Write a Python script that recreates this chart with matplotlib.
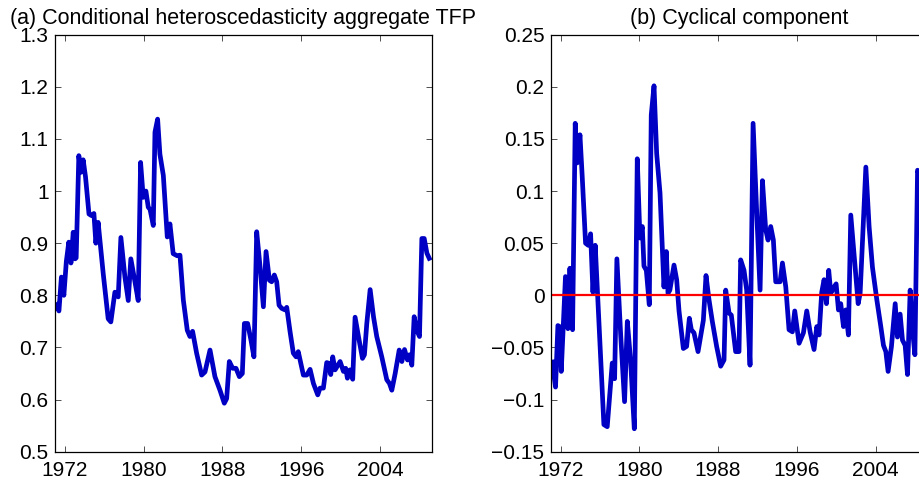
import matplotlib
matplotlib.use("Agg")
import matplotlib.pyplot as plt
from matplotlib.ticker import FixedLocator, FuncFormatter

plt.rcParams['font.family'] = ['Liberation Sans', 'DejaVu Sans']

# ---------------- data ----------------
title_a = "(a) Conditional heteroscedasticity aggregate TFP"
title_b = "(b) Cyclical component"

years_a = [1971.15, 1971.40, 1971.65, 1971.90, 1972.15, 1972.40, 1972.62, 1972.85,
           1973.05, 1973.15, 1973.42, 1973.63, 1973.86, 1974.10, 1974.45, 1974.70,
           1974.95, 1975.15, 1975.38, 1975.90, 1976.40, 1976.67, 1977.08, 1977.42,
           1977.69, 1978.10, 1978.44, 1978.70, 1979.10, 1979.45, 1979.69, 1979.96,
           1980.23, 1980.47, 1980.65, 1980.98, 1981.15, 1981.42, 1981.65, 1982.00,
           1982.40, 1982.67, 1983.00, 1983.40, 1983.69, 1984.03, 1984.43, 1984.70,
           1984.97, 1985.38, 1985.89, 1986.23, 1986.74, 1987.24, 1987.75, 1988.19,
           1988.43, 1988.70, 1989.04, 1989.38, 1989.72, 1990.02, 1990.23, 1990.56,
           1990.90, 1991.20, 1991.48, 1991.82, 1992.16, 1992.43, 1992.77, 1993.00,
           1993.27, 1993.51, 1993.75, 1994.02, 1994.36, 1994.53, 1994.87, 1995.20,
           1995.48, 1995.70, 1996.22, 1996.56, 1996.90, 1997.24, 1997.68, 1997.91,
           1998.25, 1998.59, 1998.75, 1999.00, 1999.20, 1999.44, 1999.95, 2000.29,
           2000.52, 2000.69, 2000.96, 2001.23, 2001.47, 2001.88, 2002.22, 2002.42,
           2002.66, 2003.00, 2003.34, 2003.67, 2004.18, 2004.69, 2004.96, 2005.20,
           2005.54, 2005.95, 2006.22, 2006.49, 2006.79, 2007.00, 2007.23, 2007.47,
           2007.74, 2008.01, 2008.25, 2008.49, 2008.76, 2009.00]
values_a = [0.782, 0.770, 0.835, 0.800, 0.865, 0.902, 0.862, 0.921,
            0.870, 0.872, 1.068, 1.036, 1.060, 1.027, 0.956, 0.953,
            0.957, 0.900, 0.940, 0.841, 0.755, 0.749, 0.806, 0.797,
            0.911, 0.835, 0.790, 0.870, 0.828, 0.790, 1.055, 0.988,
            1.000, 0.969, 0.965, 0.934, 1.113, 1.138, 1.071, 1.030,
            0.912, 0.937, 0.880, 0.876, 0.877, 0.791, 0.733, 0.721,
            0.731, 0.689, 0.647, 0.653, 0.695, 0.644, 0.618, 0.593,
            0.602, 0.673, 0.660, 0.660, 0.644, 0.650, 0.746, 0.746,
            0.714, 0.682, 0.922, 0.855, 0.778, 0.884, 0.829, 0.826,
            0.839, 0.826, 0.781, 0.775, 0.772, 0.777, 0.730, 0.689,
            0.682, 0.692, 0.647, 0.647, 0.658, 0.631, 0.609, 0.622,
            0.622, 0.671, 0.670, 0.648, 0.682, 0.657, 0.673, 0.654,
            0.660, 0.641, 0.657, 0.639, 0.758, 0.714, 0.679, 0.686,
            0.746, 0.811, 0.759, 0.721, 0.682, 0.638, 0.631, 0.618,
            0.650, 0.695, 0.673, 0.696, 0.676, 0.686, 0.666, 0.759,
            0.733, 0.721, 0.909, 0.909, 0.881, 0.871]

years_b = [1971.15, 1971.49, 1971.73, 1971.90, 1972.07, 1972.50, 1972.75, 1972.95,
           1973.22, 1973.49, 1973.69, 1973.97, 1974.20, 1974.54, 1974.81, 1975.05,
           1975.29, 1975.52, 1976.40, 1976.74, 1977.25, 1977.49, 1977.72, 1978.10,
           1978.50, 1978.78, 1979.11, 1979.49, 1979.79, 1980.06, 1980.30, 1980.47,
           1980.71, 1981.01, 1981.21, 1981.49, 1981.76, 1982.10, 1982.50, 1982.74,
           1982.91, 1983.10, 1983.52, 1983.79, 1984.03, 1984.47, 1984.80, 1985.08,
           1985.28, 1985.55, 1985.96, 1986.50, 1986.77, 1987.07, 1987.41, 1987.85,
           1988.26, 1988.60, 1988.77, 1989.11, 1989.34, 1989.78, 1990.12, 1990.29,
           1990.63, 1990.90, 1991.24, 1991.55, 1991.92, 1992.26, 1992.50, 1992.83,
           1993.07, 1993.34, 1993.61, 1993.85, 1994.29, 1994.53, 1994.87, 1995.20,
           1995.54, 1995.78, 1996.22, 1996.66, 1997.00, 1997.34, 1997.74, 1998.02,
           1998.25, 1998.52, 1998.76, 1999.00, 1999.23, 1999.44, 1999.71, 1999.98,
           2000.22, 2000.45, 2000.73, 2000.96, 2001.23, 2001.47, 2001.88, 2002.22,
           2002.42, 2002.66, 2003.00, 2003.33, 2003.67, 2004.11, 2004.52, 2004.79,
           2005.03, 2005.26, 2005.60, 2005.98, 2006.21, 2006.48, 2006.72, 2006.99,
           2007.23, 2007.50, 2007.77, 2007.98, 2008.25, 2008.45, 2008.75, 2009.00]
values_b = [-0.064, -0.088, -0.029, -0.030, -0.073, 0.018, -0.032, 0.026,
            -0.033, 0.165, 0.127, 0.154, 0.114, 0.050, 0.048, 0.059,
            0.003, 0.048, -0.124, -0.126, -0.065, -0.080, 0.035, -0.037,
            -0.102, -0.025, -0.062, -0.128, 0.131, 0.055, 0.066, 0.028,
            0.024, -0.009, 0.173, 0.201, 0.136, 0.098, 0.008, 0.042,
            0.002, 0.005, 0.029, 0.015, -0.015, -0.051, -0.049, -0.022,
            -0.033, -0.036, -0.054, -0.024, 0.019, -0.004, -0.025, -0.049,
            -0.068, -0.062, 0.005, -0.017, -0.019, -0.054, -0.054, 0.034,
            0.024, 0.005, -0.067, 0.165, 0.079, 0.005, 0.110, 0.063,
            0.053, 0.066, 0.053, 0.013, 0.013, 0.031, 0.008, -0.033,
            -0.035, -0.015, -0.046, -0.036, -0.015, -0.035, -0.052, -0.030,
            -0.038, 0.003, 0.015, -0.008, 0.024, 0.002, 0.007, 0.011,
            -0.014, -0.008, -0.030, -0.014, -0.038, 0.077, 0.031, -0.008,
            0.002, 0.053, 0.123, 0.066, 0.027, -0.004, -0.030, -0.048,
            -0.054, -0.073, -0.049, -0.008, -0.040, -0.018, -0.043, -0.048,
            -0.076, 0.005, -0.036, -0.057, 0.120, 0.115, -0.040, -0.050]

x_ticks = [1972, 1980, 1988, 1996, 2004]
y_ticks_a = [0.5, 0.6, 0.7, 0.8, 0.9, 1.0, 1.1, 1.2, 1.3]
y_ticks_b = [-0.15, -0.1, -0.05, 0, 0.05, 0.1, 0.15, 0.2, 0.25]

# ---------------- figure ----------------
W, H = 920, 483
fig = plt.figure(figsize=(W / 100, H / 100), dpi=100)

ax_w = 376.7 / W
ax_h = 417.0 / H
ax_b = (H - 451.7) / H
ax1 = fig.add_axes([55.0 / W, ax_b, ax_w, ax_h])
ax2 = fig.add_axes([550.7 / W, ax_b, ax_w, ax_h])

blue = '#0000C4'


def fmt(v, pos):
    s = '%g' % round(v, 4)
    return s.replace('-', '\u2212')


for ax in (ax1, ax2):
    ax.set_xlim(1971.0, 2009.25)
    ax.xaxis.set_major_locator(FixedLocator(x_ticks))
    ax.xaxis.set_major_formatter(FuncFormatter(lambda v, p: '%d' % v))
    ax.yaxis.set_major_formatter(FuncFormatter(fmt))
    ax.tick_params(direction='in', top=True, right=True, length=4, width=0.6,
                   labelsize=15, color='#333333')
    ax.tick_params(axis='x', pad=6.5)
    ax.tick_params(axis='y', pad=4.5)
    for sp in ax.spines.values():
        sp.set_linewidth(0.9)
        sp.set_color('black')

ax1.plot(years_a, values_a, color=blue, linewidth=3.4, solid_joinstyle='round')
ax1.set_ylim(0.5, 1.3)
ax1.yaxis.set_major_locator(FixedLocator(y_ticks_a))
ax1.set_title(title_a, fontsize=15.5, pad=8)

ax2.plot(years_b, values_b, color=blue, linewidth=3.4, solid_joinstyle='round')
ax2.axhline(0, color='#FF0000', linewidth=1.6)
ax2.set_ylim(-0.15, 0.25)
ax2.yaxis.set_major_locator(FixedLocator(y_ticks_b))
ax2.set_title(title_b, fontsize=15.5, pad=8)

fig.savefig('out.png', dpi=100)
